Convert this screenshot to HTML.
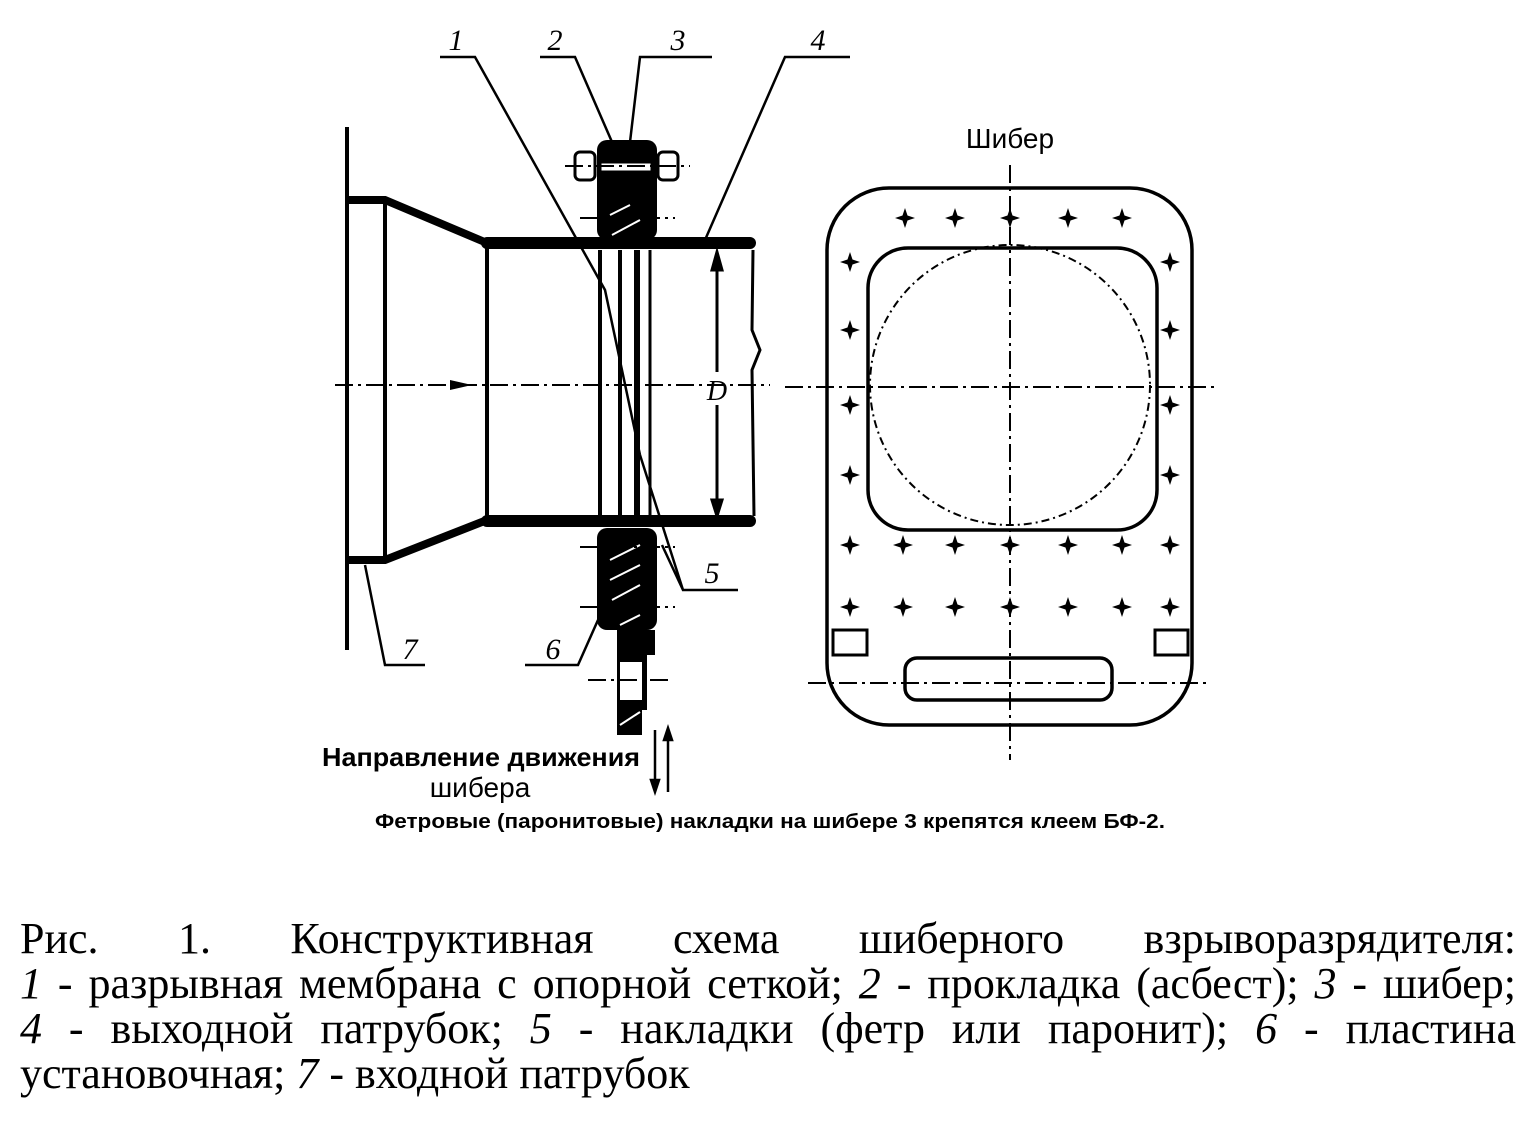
<!DOCTYPE html>
<html><head><meta charset="utf-8"><style>
body{margin:0;background:#fff;width:1532px;height:1127px;overflow:hidden;position:relative}
svg{position:absolute;left:0;top:0}
.p{position:absolute;left:20px;width:1496px;font-family:"Liberation Serif",serif;font-size:44px;line-height:45px;text-align:justify;text-align-last:justify;white-space:nowrap}
.p.l{text-align-last:left}
i{font-style:italic}
</style></head><body>
<svg width="1532" height="1127" viewBox="0 0 1532 1127" font-family="Liberation Sans,sans-serif">
<g stroke="#000" fill="none" stroke-width="4">
<line x1="347" y1="127" x2="347" y2="650"/>
<path d="M347 200 H385 L487 243" stroke-width="8"/>
<path d="M347 560 H385 L487 520" stroke-width="8"/>
<line x1="385" y1="204" x2="385" y2="556"/>
<line x1="487" y1="248" x2="487" y2="516"/>
<path d="M487 243 H750" stroke-width="12" stroke-linecap="round"/>
<path d="M487 521 H750" stroke-width="12" stroke-linecap="round"/>
<path d="M753 250 L752 330 L760 350 L752 370 L754 516" stroke-width="3"/>
<line x1="600" y1="250" x2="600" y2="516"/>
<line x1="620" y1="250" x2="620" y2="516"/>
<line x1="637" y1="250" x2="637" y2="516" stroke-width="6"/>
<line x1="650" y1="250" x2="650" y2="516" stroke-width="3"/>
</g>
<rect x="597" y="140" width="60" height="100" rx="10" fill="#000"/>
<rect x="597" y="528" width="60" height="102" rx="10" fill="#000"/>
<rect x="617" y="600" width="30" height="110" fill="#000"/>
<rect x="620" y="662" width="22" height="40" fill="#fff"/>
<rect x="617" y="700" width="25" height="35" fill="#000"/>
<rect x="645" y="630" width="10" height="25" fill="#000"/>
<g stroke="#000" stroke-width="3" fill="#fff">
<rect x="575" y="152" width="20" height="28" rx="5"/>
<rect x="658" y="152" width="20" height="28" rx="5"/>
<rect x="600" y="162" width="52" height="10" fill="#fff"/>
</g>
<g stroke="#fff" stroke-width="2">
<line x1="610" y1="215" x2="630" y2="205"/><line x1="612" y1="235" x2="640" y2="220"/>
<line x1="610" y1="560" x2="640" y2="545"/><line x1="610" y1="580" x2="640" y2="565"/><line x1="612" y1="600" x2="640" y2="585"/>
<line x1="620" y1="625" x2="640" y2="615"/><line x1="620" y1="725" x2="640" y2="712"/>
</g>
<g stroke="#000" stroke-width="2" stroke-dasharray="18,5,3,5">
<line x1="335" y1="385" x2="770" y2="385"/>
<line x1="785" y1="387" x2="1215" y2="387"/>
<line x1="808" y1="683" x2="1210" y2="683"/>
<line x1="1010" y1="165" x2="1010" y2="760"/>
<line x1="565" y1="166" x2="690" y2="166"/>
<line x1="580" y1="218" x2="675" y2="218"/>
<line x1="580" y1="547" x2="675" y2="547"/>
<line x1="580" y1="607" x2="675" y2="607"/>
<line x1="588" y1="680" x2="670" y2="680"/>
</g>
<path d="M450 380 L472 385 L450 390Z" fill="#000"/>
<g stroke="#000" stroke-width="3" fill="#000">
<line x1="717" y1="258" x2="717" y2="372"/>
<line x1="717" y1="405" x2="717" y2="510"/>
<path d="M712 270 L717 252 L722 270Z"/><path d="M712 500 L717 516 L722 500Z"/>
</g>
<text x="717" y="400" font-family="Liberation Serif,serif" font-style="italic" font-size="28" text-anchor="middle">D</text>
<g stroke="#000" stroke-width="2.5" fill="none">
<path d="M440 57 H475 L605 290 L640 455"/>
<path d="M540 57 H575 L612 142"/>
<path d="M712 57 H640 L630 142"/>
<path d="M850 57 H785 L705 240"/>
<path d="M738 590 H683 L640 455 M683 590 L662 545"/>
<path d="M525 665 H578 L598 620"/>
<path d="M425 665 H385 L365 565"/>
</g>
<g font-family="Liberation Serif,serif" font-style="italic" font-size="30" text-anchor="middle">
<text x="456" y="50">1</text><text x="555" y="50">2</text><text x="678" y="50">3</text><text x="818" y="50">4</text>
<text x="712" y="583">5</text><text x="553" y="659">6</text><text x="410" y="659">7</text>
</g>
<g stroke="#000" stroke-width="3.5" fill="none">
<rect x="827" y="188" width="365" height="537" rx="62"/>
<rect x="868" y="248" width="289" height="282" rx="40"/>
<circle cx="1010" cy="385" r="140" stroke-width="2" stroke-dasharray="8,4,2,4"/>
<rect x="833" y="630" width="34" height="25" stroke-width="3"/>
<rect x="1155" y="630" width="33" height="25" stroke-width="3"/>
<rect x="905" y="658" width="207" height="42" rx="12"/>
</g>
<g fill="#000">
<defs><path id="s" d="M0 -10 L2.5 -2.5 L10 0 L2.5 2.5 L0 10 L-2.5 2.5 L-10 0 L-2.5 -2.5Z"/></defs>
<use href="#s" x="905" y="218"/><use href="#s" x="955" y="218"/><use href="#s" x="1010" y="218"/><use href="#s" x="1068" y="218"/><use href="#s" x="1122" y="218"/>
<use href="#s" x="850" y="262"/><use href="#s" x="850" y="330"/><use href="#s" x="850" y="405"/><use href="#s" x="850" y="475"/>
<use href="#s" x="1170" y="262"/><use href="#s" x="1170" y="330"/><use href="#s" x="1170" y="405"/><use href="#s" x="1170" y="475"/>
<use href="#s" x="850" y="545"/><use href="#s" x="903" y="545"/><use href="#s" x="955" y="545"/><use href="#s" x="1010" y="545"/><use href="#s" x="1068" y="545"/><use href="#s" x="1122" y="545"/><use href="#s" x="1170" y="545"/>
<use href="#s" x="850" y="607"/><use href="#s" x="903" y="607"/><use href="#s" x="955" y="607"/><use href="#s" x="1010" y="607"/><use href="#s" x="1068" y="607"/><use href="#s" x="1122" y="607"/><use href="#s" x="1170" y="607"/>
</g>
<text x="1010" y="148" font-size="28" text-anchor="middle">Шибер</text>
<text x="481" y="766" font-size="26" font-weight="bold" text-anchor="middle" textLength="318" lengthAdjust="spacingAndGlyphs">Направление движения</text>
<text x="480" y="797" font-size="28" text-anchor="middle">шибера</text>
<g stroke="#000" stroke-width="2.5" fill="#000">
<line x1="655" y1="730" x2="655" y2="790"/><path d="M651 780 L655 792 L659 780Z"/>
<line x1="668" y1="732" x2="668" y2="792"/><path d="M664 740 L668 728 L672 740Z"/>
</g>
<text x="770" y="828" font-size="20" font-weight="bold" text-anchor="middle" textLength="790" lengthAdjust="spacingAndGlyphs">Фетровые (паронитовые) накладки на шибере 3 крепятся клеем БФ-2.</text>
</svg>
<div class="p" style="top:916px">Рис. 1. Конструктивная схема шиберного взрыворазрядителя:</div>
<div class="p" style="top:961px"><i>1</i> - разрывная мембрана с опорной сеткой; <i>2</i> - прокладка (асбест); <i>3</i> - шибер;</div>
<div class="p" style="top:1006px"><i>4</i> - выходной патрубок; <i>5</i> - накладки (фетр или паронит); <i>6</i> - пластина</div>
<div class="p l" style="top:1051px">установочная; <i>7</i> - входной патрубок</div>
</body></html>
